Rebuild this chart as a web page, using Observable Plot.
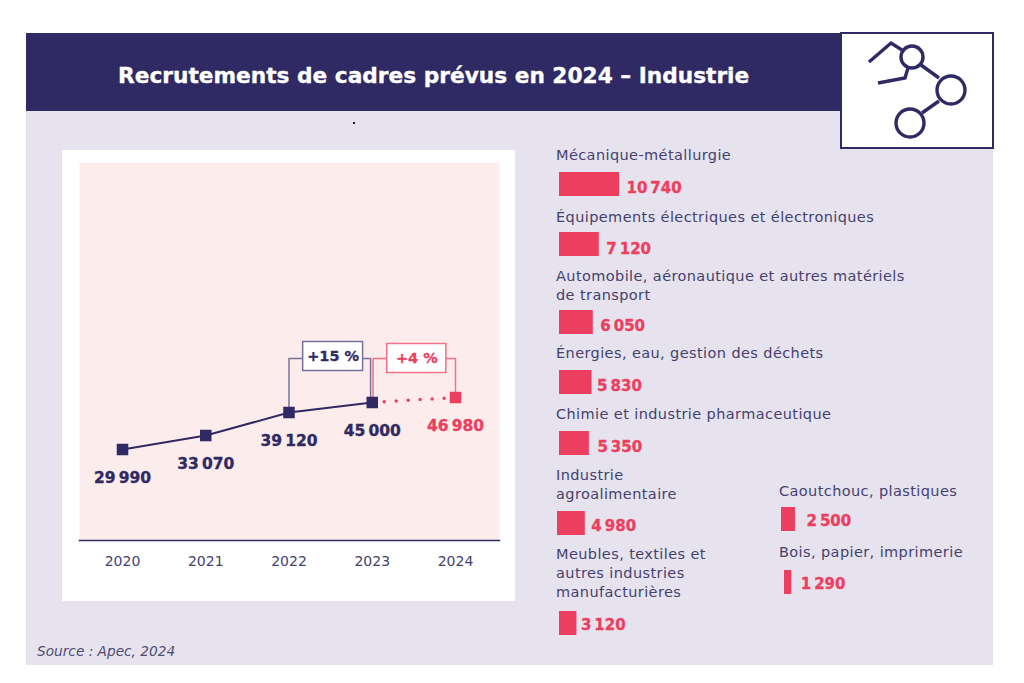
<!DOCTYPE html>
<html lang="fr"><head><meta charset="utf-8">
<script src="https://cdn.jsdelivr.net/npm/d3@7"></script>
<script src="https://cdn.jsdelivr.net/npm/@observablehq/plot@0.6"></script>
<style>
html,body{margin:0;padding:0;background:#fff;width:1024px;height:683px;overflow:hidden;font-family:"DejaVu Sans",sans-serif}
.abs{position:absolute}
#panel{left:26px;top:33px;width:967px;height:632px;background:#e6e3ee}
#head{left:26px;top:33px;width:815px;height:78px;background:#2f2a63}
#title{left:118px;top:60px;color:#fff;font-weight:700;font-size:21.7px;line-height:32px;white-space:nowrap;-webkit-text-stroke:.35px #fff}
#icon{left:840px;top:32px}
#dot{left:353px;top:122px;width:2px;height:2px;background:#222}
#card{left:62px;top:150px;width:453px;height:451px;background:#fff}
#source{left:37px;top:643px;font-style:italic;font-size:13.7px;line-height:16px;color:#4f4b73}
.lab{color:#45416f;font-size:14.5px;letter-spacing:.4px;line-height:19px;white-space:nowrap}
svg{overflow:visible}
</style></head><body>
<div class="abs" id="panel"></div>
<div class="abs" id="head"></div>
<div class="abs" id="title">Recrutements de cadres prévus en 2024 – Industrie</div>
<svg class="abs" id="icon" width="154" height="117" fill="none" stroke="#2f2a63">
<rect x="1" y="1" width="152" height="115" fill="#fff" stroke-width="2"/>
<g stroke-width="3.4">
<circle cx="72" cy="25" r="11"/><circle cx="111" cy="58" r="14"/><circle cx="70" cy="91" r="14"/>
<path d="M29 30L51 11L62 18M38 51L65 46L68 36M81 33L99 46M82 81L99 69"/>
</g></svg>
<div class="abs" id="dot"></div>
<div class="abs" id="card"></div>
<div class="abs" id="chart" style="left:62px;top:150px"></div>
<div class="abs" id="source">Source : Apec, 2024</div>
<div id="bars"></div>
<script>
// Line chart data
const years = [2020, 2021, 2022, 2023, 2024];
const recruitments = [29990, 33070, 39120, 45000, 46980];
// Sector bars data
const sectorLabels = [
  ["Mécanique-métallurgie"],
  ["Équipements électriques et électroniques"],
  ["Automobile, aéronautique et autres matériels","de transport"],
  ["Énergies, eau, gestion des déchets"],
  ["Chimie et industrie pharmaceutique"],
  ["Industrie","agroalimentaire"],
  ["Meubles, textiles et","autres industries","manufacturières"],
  ["Caoutchouc, plastiques"],
  ["Bois, papier, imprimerie"]
];
const sectorValues = [10740, 7120, 6050, 5830, 5350, 4980, 3120, 2500, 1290];
// Page placement of each sector row: label left/top, bar left/top, gap bar→value, value shift
const labelLeft = [556,556,556,556,556,556,556,779,779];
const labelTop  = [146,208,267,344,405,466,545,482,543];
const barLeft   = [559,559,559,559,559,557,559,781,784];
const barTop    = [172,232,310,370,431,511,611,507,570];
const valueGap  = [7,7,7,5,8,6,4,11,9];
const valueShift = [4,5,4,4,4,3,2,2,2];

const NAVY = "#2f2a63", RED = "#ec3f60";
const fr = v => d3.format(",")(v).replace(/,/g, "\u2009");

const series = years.map((year, i) => ({year, value: recruitments[i]}));
const bracketLevel = 60000;
const callouts = [
  {label: "+15 %", from: 2022, to: 2022.98, y0: recruitments[2], y1: recruitments[3], box: [2022.17, 2022.89], lift: 2, color: "#75729a", text: NAVY},
  {label: "+4 %", from: 2023.01, to: 2024, y0: recruitments[3], y1: recruitments[4], box: [2023.18, 2023.89], lift: 0, color: "#f2708a", text: RED}
];

const chart = Plot.plot({
  width: 453, height: 451,
  marginLeft: 17, marginRight: 16, marginTop: 12, marginBottom: 61,
  style: {background: "transparent", fontFamily: "'DejaVu Sans', sans-serif"},
  x: {type: "linear", domain: [2020, 2024], range: [60, 393], label: null},
  y: {type: "linear", axis: null,
      domain: [...recruitments, bracketLevel],
      range: [299, 285, 262, 252, 247, 208]},
  marks: [
    Plot.frame({fill: "#fcedec", stroke: null}),
    Plot.frame({anchor: "bottom", stroke: NAVY, strokeWidth: 1.5}),
    Plot.axisX({ticks: years, tickFormat: d3.format("d"), tickSize: 0, tickPadding: 16, fontSize: 14, color: "#45416f", anchor: "bottom", label: null}),
    ...callouts.flatMap(c => [
      Plot.line([[c.from, c.y0], [c.from, bracketLevel], [c.to, bracketLevel], [c.to, c.y1]], {stroke: c.color, strokeWidth: 1.5}),
      Plot.rect([c], {x1: c.box[0], x2: c.box[1], y1: bracketLevel, y2: bracketLevel, insetTop: -14.5, insetBottom: -14.5, dy: -c.lift, fill: "#fff", stroke: c.color, strokeWidth: 1.5}),
      Plot.text([c], {x: (c.box[0] + c.box[1]) / 2, y: bracketLevel, dy: -c.lift, text: "label", fill: c.text, stroke: c.text, strokeWidth: 0.3, fontSize: 14.5, fontWeight: 700})
    ]),
    Plot.line(series.slice(0, 4), {x: "year", y: "value", stroke: NAVY, strokeWidth: 2}),
    Plot.line(series.slice(3), {x: "year", y: "value", stroke: RED, strokeWidth: 3.5, strokeDasharray: "0 12", strokeLinecap: "round"}),
    Plot.dot(series.slice(0, 4), {x: "year", y: "value", symbol: "square", r: 6.5, fill: NAVY}),
    Plot.dot(series.slice(4), {x: "year", y: "value", symbol: "square", r: 6.5, fill: RED}),
    Plot.text(series, {x: "year", y: "value", text: d => fr(d.value), dy: 29, fill: d => d.year === 2024 ? RED : NAVY, stroke: d => d.year === 2024 ? RED : NAVY, strokeWidth: 0.35, fontSize: 15.5, fontWeight: 700})
  ]
});
document.getElementById("chart").append(chart);

const bars = document.getElementById("bars");
sectorValues.forEach((value, i) => {
  const lab = document.createElement("div");
  lab.className = "abs lab";
  lab.style.left = labelLeft[i] + "px";
  lab.style.top = labelTop[i] + "px";
  lab.innerHTML = sectorLabels[i].join("<br>");
  bars.append(lab);
  const row = [{cat: sectorLabels[i][0], value}];
  const p = Plot.plot({
    width: 160, height: 24, margin: 0,
    style: {background: "transparent", fontFamily: "'DejaVu Sans', sans-serif", overflow: "visible"},
    x: {domain: [0, 10740], range: [0, 60], axis: null},
    y: {axis: null, padding: 0},
    marks: [
      Plot.barX(row, {x: "value", y: "cat", fill: RED}),
      Plot.text(row, {x: "value", y: "cat", text: d => fr(d.value), dx: valueGap[i], dy: valueShift[i], textAnchor: "start", fill: RED, stroke: RED, strokeWidth: 0.35, fontSize: 15, fontWeight: 700})
    ]
  });
  const wrap = document.createElement("div");
  wrap.className = "abs";
  wrap.style.left = barLeft[i] + "px";
  wrap.style.top = barTop[i] + "px";
  wrap.append(p);
  bars.append(wrap);
});
</script>
</body></html>
